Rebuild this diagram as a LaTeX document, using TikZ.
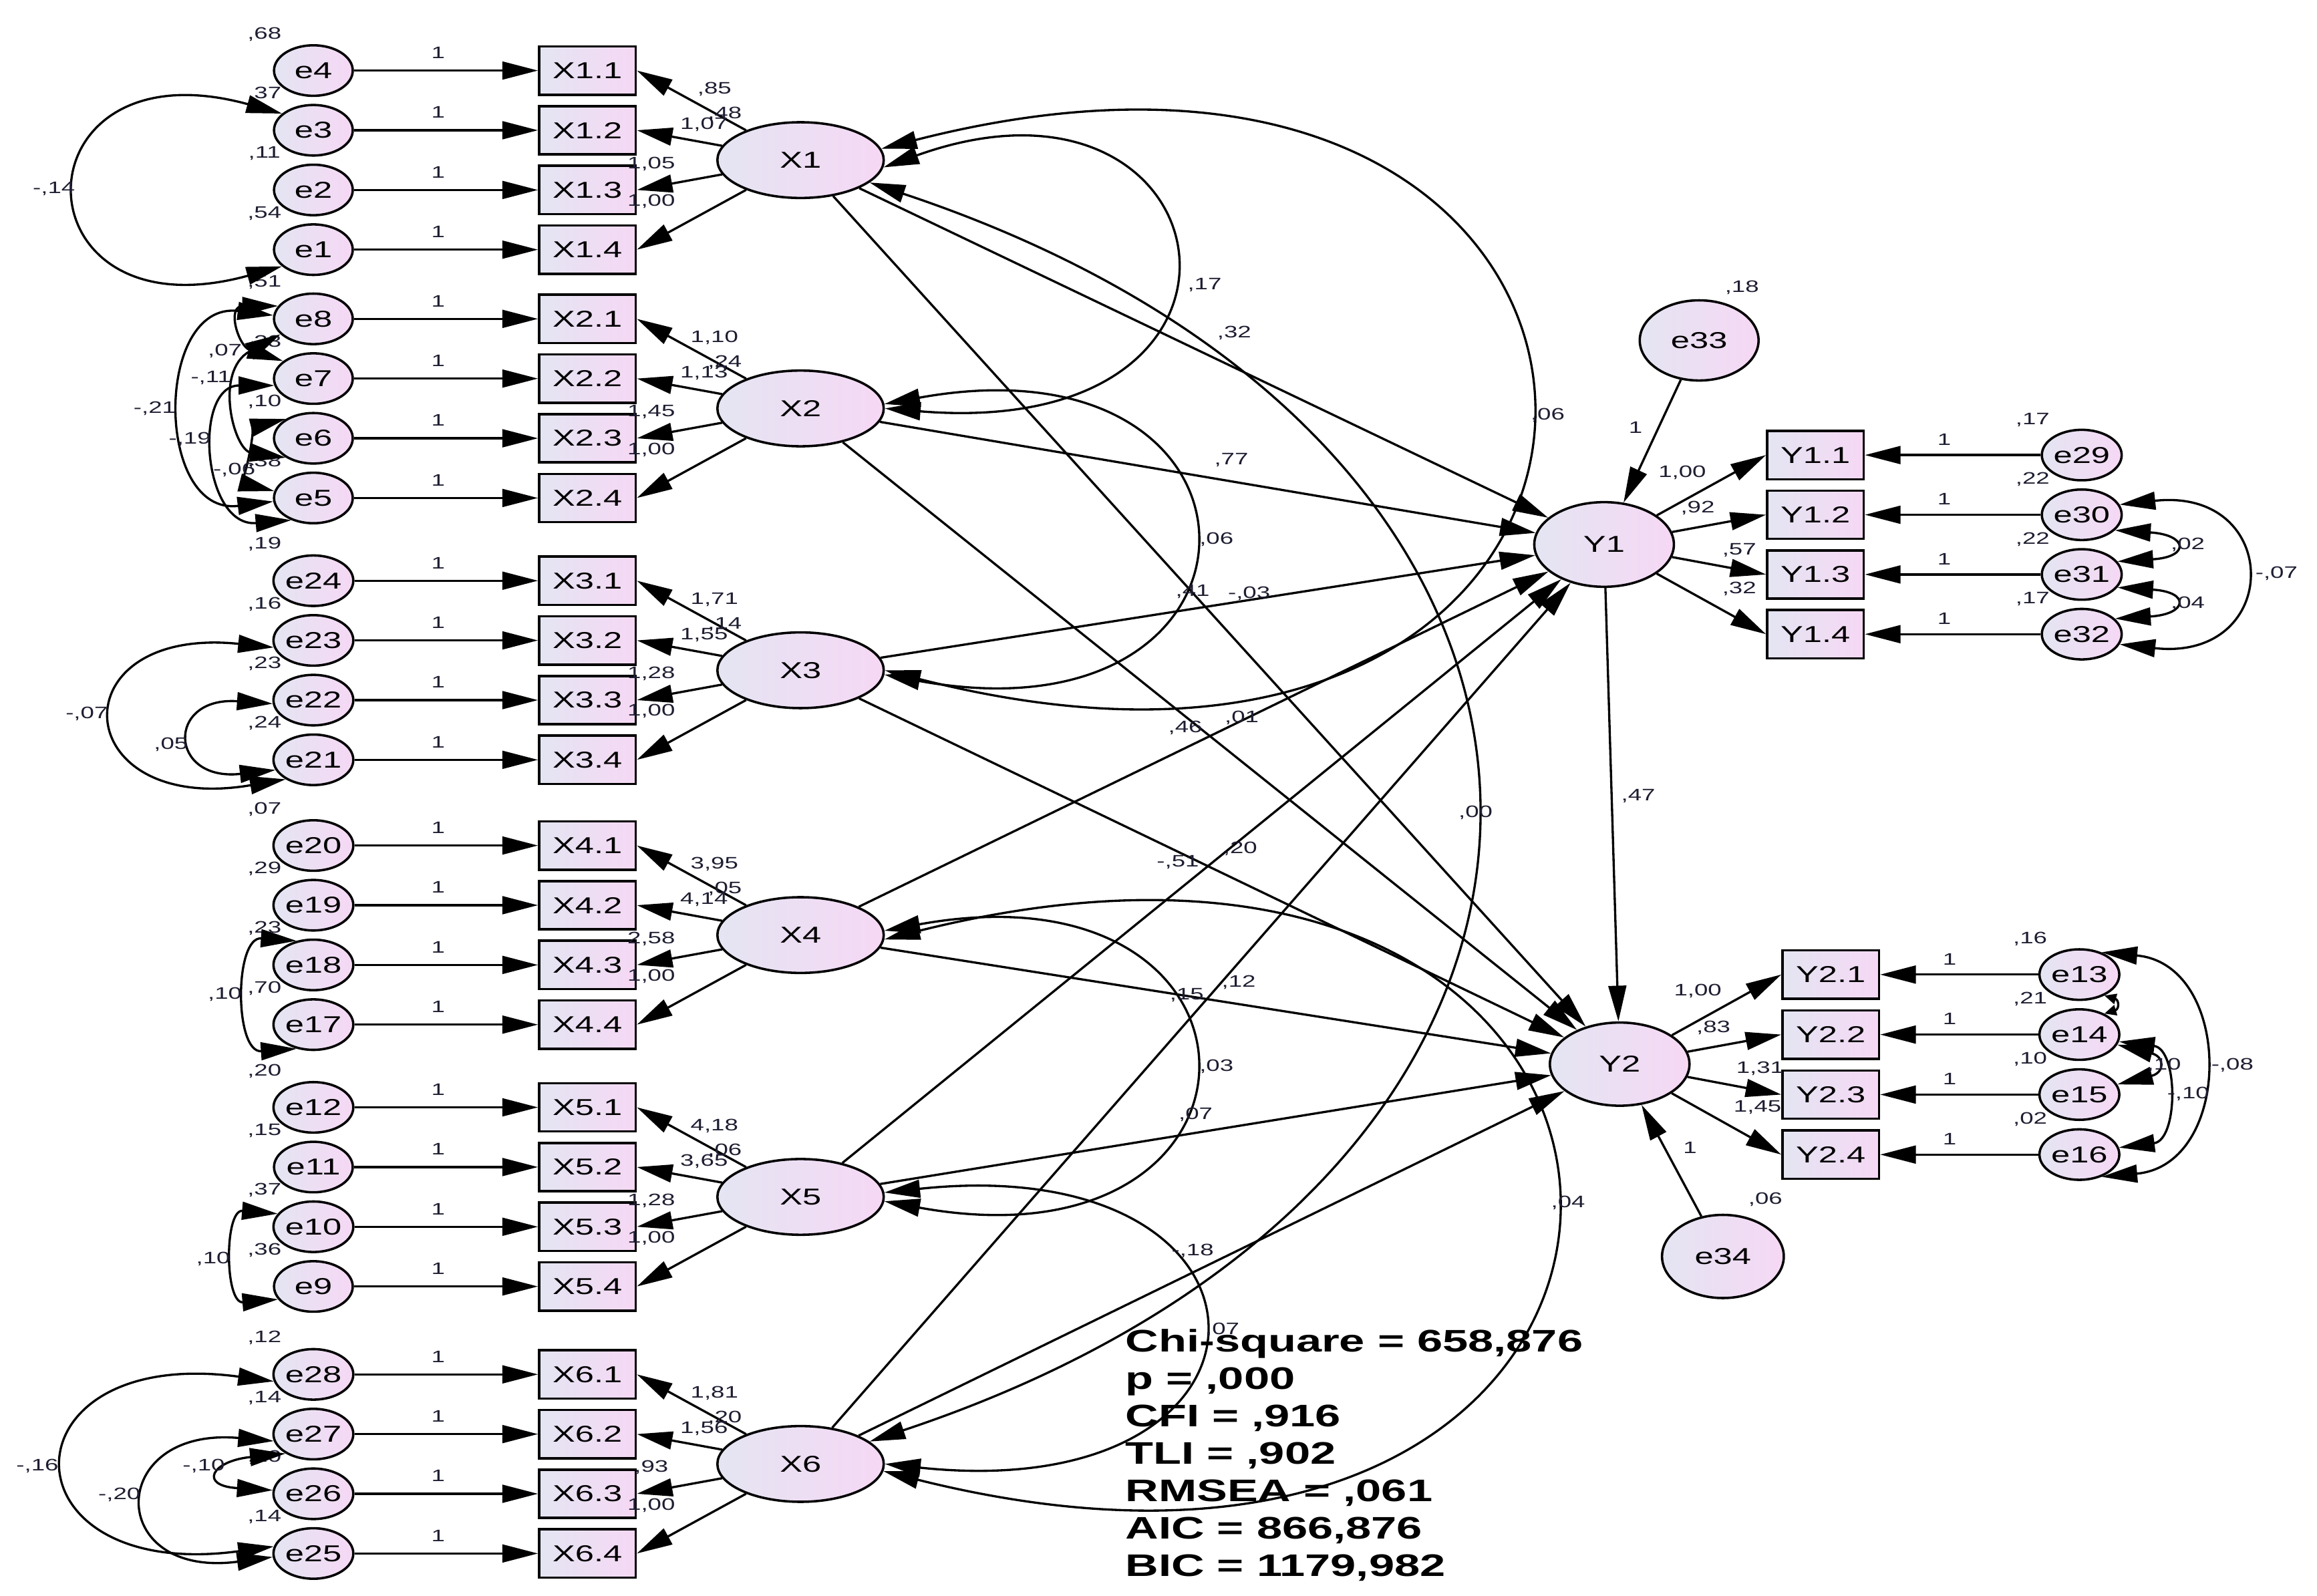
\documentclass[tikz,border=0pt]{standalone}
\usepackage{fontspec}
\setmainfont{Liberation Sans}[FakeStretch=1.47]
\usetikzlibrary{shapes.geometric,arrows.meta}
\definecolor{gl}{RGB}{228,229,243}
\definecolor{gr}{RGB}{246,216,244}
\definecolor{lc}{RGB}{30,30,50}
\newcommand{\mynodefont}{\fontsize{15.5}{18}\selectfont}
\newcommand{\mylabfont}{\fontsize{11.2}{13}\selectfont}
\newcommand{\mystatfont}{\fontsize{21}{24}\selectfont\bfseries}
\newcommand{\erow}[5]{%
  \node[err] (#1) at (211,#4) {#1};
  \node[obs] (#2) at (395.5,#4) {#3};
  \draw[pth] (#1) -- (#2);
  \node[lbl] (#1one) at (295,#4-12) {1};
  \node[lbl] (#1var) at (178,#4-24.5) {#5};
}
\newcommand{\xgrp}[7]{%
  \node[lat] (X#1) at (539,#2+60.3) {X#1};
  \foreach \k in {1,2,3,4} {\draw[pth] (X#1) -- (b#1\k.east);}
  \node[lbl] (X#1la) at (481,#2+12.5) {#3};
  \node[lbl] (X#1var) at (488,#2+29.3) {#4};
  \node[lbl] (X#1lb) at (474,#2+36.5) {#5};
  \node[lbl] (X#1lc) at (438.5,#2+62.7) {#6};
  \node[lbl] (X#1ld) at (438.5,#2+88) {#7};
}
\newcommand{\yrow}[9]{%
  \node[obs] (#2) at (#6,#4) {#3};
  \node[err] (#1) at (#7,#4) {#1};
  \draw[pth] (#1) -- (#2);
  \node[lbl] (#1one) at (#8,#4-10.5) {1};
  \node[lbl] (#1var) at (#9,#4-23.8) {#5};
}
\begin{document}
\begin{tikzpicture}[x=1pt,y=-1pt,
  err/.style={ellipse,draw,line width=1.6pt,left color=gl,right color=gr,minimum width=53pt,minimum height=34pt,inner sep=0pt,font=\mynodefont},
  lat/.style={ellipse,draw,line width=1.6pt,left color=gl,right color=gr,minimum width=112pt,minimum height=51pt,inner sep=0pt,font=\mynodefont},
  obs/.style={rectangle,draw,line width=1.6pt,left color=gl,right color=gr,minimum width=65pt,minimum height=32.5pt,inner sep=0pt,font=\mynodefont},
  lbl/.style={inner sep=0pt,font=\mylabfont,text=lc},
  stat/.style={inner sep=0pt,font=\mystatfont,anchor=base west},
  pth/.style={-{Triangle[length=24pt,width=12pt]},line width=1.5pt},
  cov/.style={{Triangle[length=24pt,width=12pt]}-{Triangle[length=24pt,width=12pt]},line width=1.5pt},
  tcov/.style={{Triangle[length=8pt,width=7pt]}-{Triangle[length=8pt,width=7pt]},line width=1.5pt},
]
\fill[white] (0,0) rectangle (1560,1074.2);
\useasboundingbox (0,0) rectangle (1560,1074.2);

% ---------- left measurement rows
\erow{e4}{b11}{X1.1}{47.5}{,68}
\erow{e3}{b12}{X1.2}{87.7}{,37}
\erow{e2}{b13}{X1.3}{127.9}{,11}
\erow{e1}{b14}{X1.4}{168.1}{,54}
\erow{e8}{b21}{X2.1}{214.7}{,51}
\erow{e7}{b22}{X2.2}{254.9}{,33}
\erow{e6}{b23}{X2.3}{295.1}{,10}
\erow{e5}{b24}{X2.4}{335.3}{,38}
\erow{e24}{b31}{X3.1}{391}{,19}
\erow{e23}{b32}{X3.2}{431.2}{,16}
\erow{e22}{b33}{X3.3}{471.4}{,23}
\erow{e21}{b34}{X3.4}{511.6}{,24}
\erow{e20}{b41}{X4.1}{569.3}{,07}
\erow{e19}{b42}{X4.2}{609.5}{,29}
\erow{e18}{b43}{X4.3}{649.7}{,23}
\erow{e17}{b44}{X4.4}{689.9}{,70}
\erow{e12}{b51}{X5.1}{745.6}{,20}
\erow{e11}{b52}{X5.2}{785.8}{,15}
\erow{e10}{b53}{X5.3}{826}{,37}
\erow{e9}{b54}{X5.4}{866.2}{,36}
\erow{e28}{b61}{X6.1}{925.4}{,12}
\erow{e27}{b62}{X6.2}{965.6}{,14}
\erow{e26}{b63}{X6.3}{1005.8}{,20}
\erow{e25}{b64}{X6.4}{1046}{,14}

% ---------- latent X
\xgrp{1}{47.5}{,85}{,48}{1,07}{1,05}{1,00}
\xgrp{2}{214.7}{1,10}{,24}{1,13}{1,45}{1,00}
\xgrp{3}{391}{1,71}{,14}{1,55}{1,28}{1,00}
\xgrp{4}{569.3}{3,95}{,05}{4,14}{2,58}{1,00}
\xgrp{5}{745.6}{4,18}{,06}{3,65}{1,28}{1,00}
\xgrp{6}{925.4}{1,81}{,20}{1,56}{,93}{1,00}

% ---------- right side
\node[lat,minimum width=94pt,minimum height=57pt] (Y1) at (1080,366.6) {Y1};
\node[lat,minimum width=94pt,minimum height=56pt] (Y2) at (1090.5,716.5) {Y2};
\node[err,minimum width=80pt,minimum height=54pt] (e33) at (1144,229.2) {e33};
\node[err,minimum width=82pt,minimum height=56pt] (e34) at (1160,846) {e34};

\yrow{e29}{c11}{Y1.1}{306.4}{,17}{1222.3}{1401.6}{1309}{1368.5}
\yrow{e30}{c12}{Y1.2}{346.6}{,22}{1222.3}{1401.6}{1309}{1368.5}
\yrow{e31}{c13}{Y1.3}{386.8}{,22}{1222.3}{1401.6}{1309}{1368.5}
\yrow{e32}{c14}{Y1.4}{427}{,17}{1222.3}{1401.6}{1309}{1368.5}
\yrow{e13}{c21}{Y2.1}{656.2}{,16}{1232.6}{1400}{1312.6}{1366.8}
\yrow{e14}{c22}{Y2.2}{696.6}{,21}{1232.6}{1400}{1312.6}{1366.8}
\yrow{e15}{c23}{Y2.3}{737}{,10}{1232.6}{1400}{1312.6}{1366.8}
\yrow{e16}{c24}{Y2.4}{777.4}{,02}{1232.6}{1400}{1312.6}{1366.8}

\foreach \k in {1,2,3,4} {\draw[pth] (Y1) -- (c1\k.west); \draw[pth] (Y2) -- (c2\k.west);}
\draw[pth] (e33) -- (Y1);
\draw[pth] (e34) -- (Y2);
\draw[pth] (Y1) -- (Y2);

% ---------- structural paths
\foreach \i in {1,...,6} {\draw[pth] (X\i) -- (Y1); \draw[pth] (X\i) -- (Y2);}

% ---------- covariances among X
\draw[cov] (X1.-5) .. controls +(234,-84) and +(280,23) .. (X2.0);
\draw[cov] (X1.8) .. controls +(578,-148) and +(578,148) .. (X3.0);
\draw[cov] (X2.3) .. controls +(275,-50) and +(275,50) .. (X3.-3);
\draw[cov] (X1.-18) .. controls +(541,180) and +(541,-180) .. (X6.18);
\draw[cov] (X4.3) .. controls +(275,-50) and +(275,50) .. (X5.-3);
\draw[cov] (X4.-3) .. controls +(600,-150) and +(600,150) .. (X6.-5);
\draw[cov] (X5.3) .. controls +(283,-30) and +(283,30) .. (X6.0);

% ---------- covariances among left errors
\draw[cov] (e3.152) .. controls +(-182,-50) and +(-182,50) .. (e1.208);
\draw[cov] (e8.175) .. controls +(-80,-10) and +(-80,10) .. (e5.185);
\draw[cov] (e7.190) .. controls +(-55,0) and +(-60,5) .. (e5.225);
\draw[cov] (e8.205) .. controls +(-45,25) and +(-35,-5) .. (e6.215);
\draw[cov] (e8.160) .. controls +(-35,0) and +(-30,-10) .. (e7.150);
\draw[cov] (e6.145) .. controls +(-20,5) and +(-20,-5) .. (e5.170);
\draw[cov] (e23.190) .. controls +(-147,-15) and +(-147,25) .. (e21.215);
\draw[cov] (e22.185) .. controls +(-72,-5) and +(-72,8) .. (e21.195);
\draw[cov] (e18.125) .. controls +(-42,-3) and +(-42,3) .. (e17.235);
\draw[cov] (e10.160) .. controls +(-36,-3) and +(-36,3) .. (e9.200);
\draw[cov] (e28.190) .. controls +(-185,-25) and +(-185,25) .. (e25.170);
\draw[cov] (e27.190) .. controls +(-113,-10) and +(-113,15) .. (e25.185);
\draw[cov] (e27.215) .. controls +(-50,5) and +(-50,-3) .. (e26.175);

% ---------- covariances among right errors
\draw[cov] (e30.15) .. controls +(110,-12) and +(110,12) .. (e32.345);
\draw[cov] (e30.-25) .. controls +(49,3) and +(49,-3) .. (e31.20);
\draw[cov] (e31.-20) .. controls +(49,3) and +(49,-3) .. (e32.25);
\draw[cov] (e13.45) .. controls +(89,8) and +(89,-8) .. (e16.-45);
\draw[cov] (e14.-10) .. controls +(40,5) and +(40,-5) .. (e16.10);
\draw[cov] (e14.-15) .. controls +(32,8) and +(32,-8) .. (e15.15);
\draw[tcov] (e13.-40) .. controls +(10,3) and +(10,-3) .. (e14.40);

% ---------- labels: structural and covariance
\node[lbl] (s1) at (831,224.3) {,32};
\node[lbl] (s2) at (829,309.5) {,77};
\node[lbl] (s3) at (803,398.4) {,41};
\node[lbl] (s4) at (841,399.8) {-,03};
\node[lbl] (s5) at (798,490) {,46};
\node[lbl] (s6) at (836,483.5) {,01};
\node[lbl] (s7) at (793,580.7) {-,51};
\node[lbl] (s8) at (835,571.3) {,20};
\node[lbl] (s9) at (799,670.2) {,15};
\node[lbl] (s10) at (834,661.6) {,12};
\node[lbl] (s11) at (805,750.6) {,07};
\node[lbl] (s12) at (803,842.4) {-,18};
\node[lbl] (k1) at (811,191.9) {,17};
\node[lbl] (k2) at (1042,279.7) {,06};
\node[lbl] (k3) at (819,363.4) {,06};
\node[lbl] (k4) at (993.5,547) {,00};
\node[lbl] (k5) at (819,718.1) {,03};
\node[lbl] (k6) at (1055.8,809.7) {,04};
\node[lbl] (k7) at (823,895.4) {,07};
\node[lbl] (y12) at (1103,536) {,47};
% Y1 / Y2 loadings
\node[lbl] (q1) at (1132.6,318) {1,00};
\node[lbl] (q2) at (1143,342) {,92};
\node[lbl] (q3) at (1171,370.3) {,57};
\node[lbl] (q4) at (1171,396.4) {,32};
\node[lbl] (q5) at (1101.2,287.9) {1};
\node[lbl] (q6) at (1172.8,193.5) {,18};
\node[lbl] (r1) at (1143.1,667.1) {1,00};
\node[lbl] (r2) at (1153.6,692.2) {,83};
\node[lbl] (r3) at (1185,719.3) {1,31};
\node[lbl] (r4) at (1183.3,745.4) {1,45};
\node[lbl] (r5) at (1137.9,772.6) {1};
\node[lbl] (r6) at (1188.6,807.7) {,06};
% right error covariances
\node[lbl] (t1) at (1473,367) {,02};
\node[lbl] (t2) at (1473,406.4) {,04};
\node[lbl] (t3) at (1532.7,386.3) {-,07};
\node[lbl] (t4) at (1503,717.3) {-,08};
\node[lbl] (t5) at (1473.3,736.4) {-,10};
\node[lbl] (t6) at (1457,717.3) {,10};
% left error covariances
\node[lbl] (u1) at (36.3,127.3) {-,14};
\node[lbl] (u2) at (151.4,236.2) {,07};
\node[lbl] (u3) at (142,254.6) {-,11};
\node[lbl] (u4) at (104.1,275.2) {-,21};
\node[lbl] (u5) at (127.8,295.9) {-,19};
\node[lbl] (u6) at (157.7,316.5) {-,06};
\node[lbl] (u7) at (58.4,480.5) {-,07};
\node[lbl] (u8) at (115.1,501.1) {,05};
\node[lbl] (u9) at (151.4,669.7) {,10};
\node[lbl] (u10) at (143.5,847.7) {,10};
\node[lbl] (u11) at (25.2,986.9) {-,16};
\node[lbl] (u12) at (80.4,1006.6) {-,20};
\node[lbl] (u13) at (137.2,986.9) {-,10};

% ---------- fit statistics
\node[stat] (f1) at (757.6,910.3) {Chi-square = 658,876};
\node[stat] (f2) at (757.6,935.5) {p = ,000};
\node[stat] (f3) at (757.6,960.7) {CFI = ,916};
\node[stat] (f4) at (757.6,985.9) {TLI = ,902};
\node[stat] (f5) at (757.6,1011.1) {RMSEA = ,061};
\node[stat] (f6) at (757.6,1036.3) {AIC = 866,876};
\node[stat] (f7) at (757.6,1061.5) {BIC = 1179,982};
\end{tikzpicture}
\end{document}
